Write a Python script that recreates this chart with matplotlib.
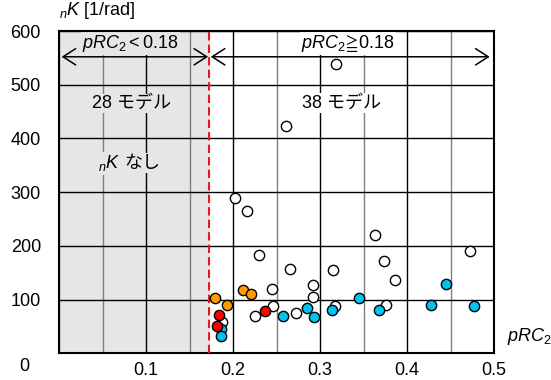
import matplotlib.pyplot as plt
from matplotlib.ticker import MultipleLocator

plt.rcParams["font.family"] = ["Liberation Sans", "Noto Sans CJK JP"]
plt.rcParams["font.size"] = 13
plt.rcParams["mathtext.fontset"] = "custom"
plt.rcParams["mathtext.rm"] = "Liberation Sans"
plt.rcParams["mathtext.it"] = "Liberation Sans:italic"

THRESHOLD = 0.1724

# pRC2 / nK values per group
white_x = [0.2028, 0.2157, 0.2299, 0.2652, 0.3150, 0.3633, 0.2448, 0.2456, 0.2249, 0.2720,
           0.2924, 0.2924, 0.3169, 0.1878, 0.3732, 0.3862, 0.4720, 0.3755, 0.3188, 0.2614]
white_y = [288.5, 264.3, 183.6, 157.5, 154.5, 220.8, 119.1, 88.0, 70.0, 75.6,
           126.6, 105.4, 88.0, 58.8, 171.8, 136.5, 191.0, 90.5, 538.0, 423.0]
cyan_x = [0.1866, 0.1866, 0.2579, 0.2847, 0.2928, 0.3138, 0.3453, 0.3678, 0.4280, 0.4453, 0.4767]
cyan_y = [45.2, 32.2, 68.9, 84.9, 68.1, 81.2, 103.5, 81.2, 89.9, 129.0, 88.6]
orange_x = [0.1797, 0.1931, 0.2119, 0.2203]
orange_y = [102.4, 89.4, 117.8, 111.0]
red_x = [0.1839, 0.1820, 0.2372]
red_y = [70.7, 51.4, 78.7]

fig = plt.figure(figsize=(5.51, 3.80), dpi=100)
ax = fig.add_axes([0.1071, 0.0703, 0.7895, 0.8481])

ax.set_xlim(0, 0.5)
ax.set_ylim(0, 600)

ax.axvspan(0, THRESHOLD, color="#e6e6e6", zorder=0)

# grid: black at 0.1 / 100, grey at 0.05
ax.xaxis.set_major_locator(MultipleLocator(0.1))
ax.xaxis.set_minor_locator(MultipleLocator(0.05))
ax.set_yticks([100, 200, 300, 400, 500, 600])
ax.grid(which="major", color="black", linewidth=1.0, zorder=0.5)
ax.grid(which="minor", axis="x", color="#7f7f7f", linewidth=1.0, zorder=0.5)
ax.set_axisbelow(True)
ax.tick_params(which="both", length=0)
ax.tick_params(axis="y", pad=13)
ax.tick_params(axis="x", pad=6)
ax.set_xticks([0.1, 0.2, 0.3, 0.4, 0.5])
ax.set_xticklabels(["0.1", "0.2", "0.3", "0.4", "0.5"])
for s in ax.spines.values():
    s.set_linewidth(1.5)

ax.text(-0.08, -0.04, "0", transform=ax.transAxes, ha="center", va="center")

ax.axvline(THRESHOLD, color="#e8191e", linestyle=(0, (4, 2)), linewidth=1.5, zorder=3)

arrow_kw = dict(arrowstyle="<->,head_length=0.7,head_width=0.45", color="black", linewidth=1.1,
                shrinkA=0, shrinkB=0)
ax.annotate("", xy=(0.003, 552), xytext=(THRESHOLD - 0.001, 552), arrowprops=arrow_kw, zorder=3)
ax.annotate("", xy=(THRESHOLD + 0.002, 552), xytext=(0.495, 552), arrowprops=arrow_kw, zorder=3)

gray_box = dict(facecolor="#e6e6e6", edgecolor="none", pad=1)
white_box = dict(facecolor="white", edgecolor="none", pad=1)
ax.text(0.0824, 577, r"$pRC_{2}<0.18$", ha="center", va="center", bbox=gray_box, zorder=2)
ax.text(0.3318, 577, r"$pRC_{2}\!\geqq\!0.18$", ha="center", va="center", bbox=white_box, zorder=2)
ax.text(0.0836, 465, "28 モデル", ha="center", va="center", bbox=gray_box, zorder=2)
ax.text(0.3250, 466, "38 モデル", ha="center", va="center", bbox=white_box, zorder=2)
ax.text(0.0700, 354, r"${}_{n}K$", ha="right", va="center", bbox=gray_box, zorder=2)
ax.text(0.0750, 354, "なし", ha="left", va="center", bbox=gray_box, zorder=2)

mk = dict(s=55, edgecolors="black", linewidths=1.0, zorder=4, clip_on=False)
ax.scatter(white_x, white_y, c="white", **mk)
ax.scatter(cyan_x, cyan_y, c="#00c3f0", **mk)
ax.scatter(orange_x, orange_y, c="#ff9a00", **mk)
ax.scatter(red_x, red_y, c="#ff0000", **mk)

ax.text(0.0, 1.03, r"${}_{n}K$ [1/rad]", transform=ax.transAxes, ha="left", va="bottom")
ax.text(1.03, 0.02, r"$pRC_{2}$", transform=ax.transAxes, ha="left", va="bottom")

fig.savefig("out.png", dpi=100)
